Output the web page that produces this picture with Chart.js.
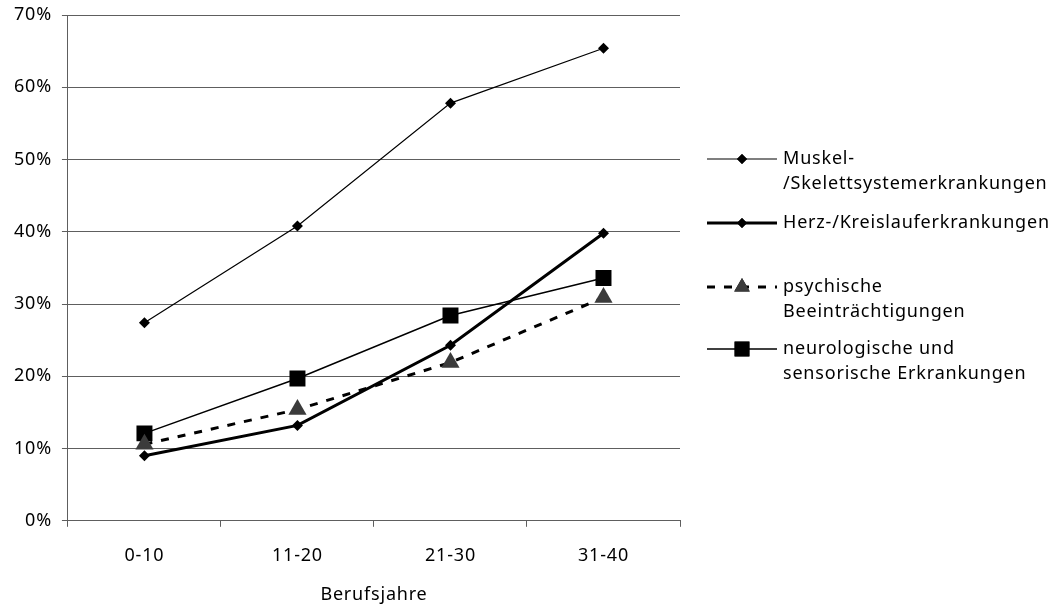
<!DOCTYPE html>
<html>
<head>
<meta charset="utf-8">
<script src="https://cdn.jsdelivr.net/npm/chart.js@4"></script>
<style>
  html, body { margin: 0; padding: 0; background: #fff; }
  #wrap { width: 1055px; height: 606px; }
</style>
</head>
<body>
<div id="wrap"><canvas id="chart" width="1055" height="606"></canvas></div>
<script>
// data
var categories = ['0-10', '11-20', '21-30', '31-40'];
var muskel = [27.4, 40.8, 57.8, 65.4];
var herz = [9.0, 13.2, 24.3, 39.8];
var psychisch = [10.6, 15.4, 21.9, 30.9];
var neuro = [12.1, 19.7, 28.4, 33.6];
var seriesNames = [
  ['Muskel-', '/Skelettsystemerkrankungen'],
  ['Herz-/Kreislauferkrankungen'],
  ['psychische', 'Beeinträchtigungen'],
  ['neurologische und', 'sensorische Erkrankungen']
];
var yTicks = [0, 10, 20, 30, 40, 50, 60, 70];
var xTitle = 'Berufsjahre';

var FONT = '"Noto Sans", sans-serif';
var GRID = '#5e5e5e';
var SPACING = '0.8px';

// the original text is set a little wider
var spacing = {
  id: 'spacing',
  beforeUpdate: function(chart) { chart.ctx.letterSpacing = SPACING; },
  beforeDraw: function(chart) { chart.ctx.letterSpacing = SPACING; }
};

// legend drawn on the canvas, right of the plot
var sideLegend = {
  id: 'sideLegend',
  afterDraw: function(chart) {
    var ctx = chart.ctx;
    var rows = [159, 223, 287, 349];
    var lineH = 25;
    ctx.save();
    chart.data.datasets.forEach(function(ds, i) {
      var y = rows[i];
      ctx.strokeStyle = ds.borderColor;
      ctx.lineWidth = ds.borderWidth;
      ctx.setLineDash(ds.borderDash || []);
      ctx.beginPath();
      ctx.moveTo(707, y);
      ctx.lineTo(777, y);
      ctx.stroke();
      ctx.setLineDash([]);
      Chart.helpers.drawPoint(ctx, {
        pointStyle: ds.pointStyle,
        radius: ds.legendRadius,
        borderWidth: 0
      }, 742, y);
      ctx.fillStyle = ds.pointBackgroundColor;
      ctx.fill();
      ctx.fillStyle = '#000';
      ctx.font = '18px ' + FONT;
      ctx.letterSpacing = SPACING;
      ctx.textBaseline = 'middle';
      ctx.textAlign = 'left';
      seriesNames[i].forEach(function(t, k) {
        ctx.fillText(t, 783, y + k * lineH);
      });
    });
    ctx.restore();
  }
};

function series(label, data, width, dash, style, radius, fill, legendRadius) {
  return {
    label: label,
    data: data,
    borderColor: '#000',
    borderWidth: width,
    borderDash: dash,
    pointStyle: style,
    pointRadius: radius,
    pointHoverRadius: radius,
    pointBackgroundColor: fill,
    pointBorderColor: fill,
    pointBorderWidth: 0,
    legendRadius: legendRadius,
    tension: 0,
    fill: false
  };
}

new Chart(document.getElementById('chart'), {
  type: 'line',
  data: {
    labels: categories,
    datasets: [
      series(seriesNames[0].join(''), muskel, 1.2, [], 'rectRot', 5.5, '#000', 5),
      series(seriesNames[1].join(''), herz, 3, [], 'rectRot', 5.5, '#000', 5),
      series(seriesNames[2].join(' '), psychisch, 3, [8, 9], 'triangle', 10.5, '#3b3b3b', 9),
      series(seriesNames[3].join(' '), neuro, 1.5, [], 'rect', 11.3, '#000', 10.5)
    ]
  },
  options: {
    responsive: false,
    animation: false,
    events: [],
    layout: { padding: { left: 4, right: 375, top: 15, bottom: 0 } },
    plugins: { legend: { display: false }, tooltip: { enabled: false } },
    scales: {
      x: {
        offset: true,
        grid: { display: true, drawOnChartArea: false, drawTicks: true, tickLength: 6, color: GRID, offset: true },
        border: { color: GRID, width: 1 },
        ticks: { color: '#000', font: { family: FONT, size: 18 }, padding: 18 },
        title: { display: true, text: xTitle, color: '#000', font: { family: FONT, size: 18 }, padding: { top: 0, bottom: 0 } }
      },
      y: {
        min: 0,
        max: 70,
        afterBuildTicks: function(axis) {
          axis.ticks = yTicks.map(function(v) { return { value: v }; });
        },
        afterFit: function(axis) {
          axis.paddingTop = 0;
        },
        grid: { color: GRID, lineWidth: 1, drawTicks: true, tickLength: 6 },
        border: { color: GRID, width: 1 },
        ticks: {
          color: '#000',
          font: { family: FONT, size: 18 },
          padding: 10,
          callback: function(v) { return v + '%'; }
        }
      }
    }
  },
  plugins: [spacing, sideLegend]
});
</script>
</body>
</html>
